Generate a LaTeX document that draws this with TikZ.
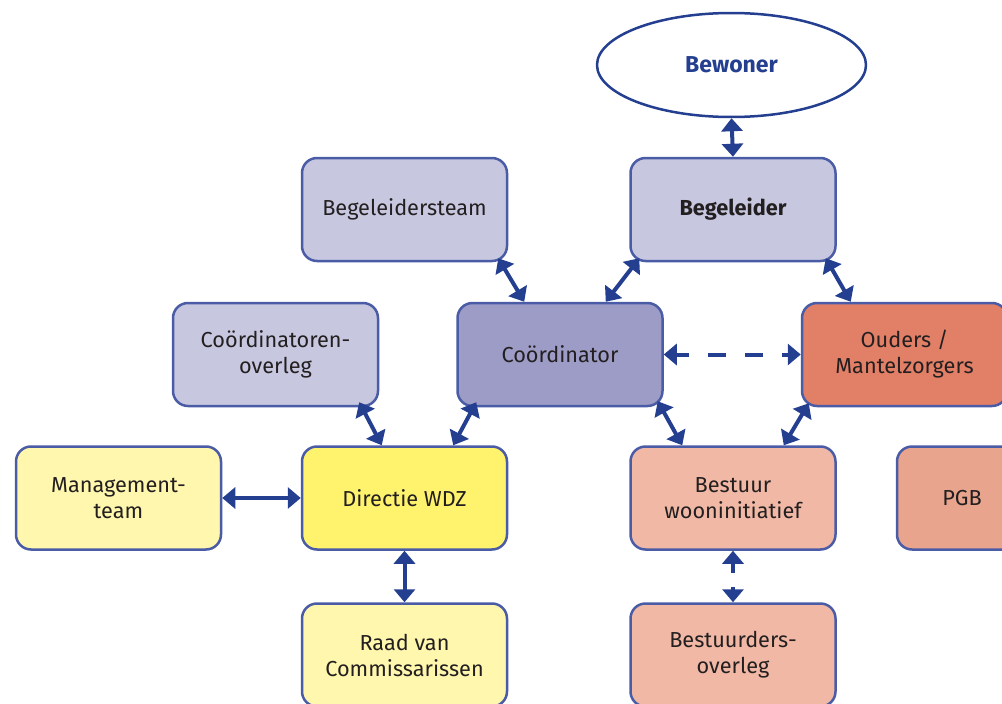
\documentclass[tikz,border=0pt]{standalone}
\usepackage{fontspec}
\setmainfont{Fira Sans}
\usetikzlibrary{arrows.meta,calc,shapes.geometric}
\begin{document}
\begin{tikzpicture}[x=1pt,y=-1pt,line join=round]
	\definecolor{lijnblauw}{HTML}{4B5CA6}
	\definecolor{pijlblauw}{HTML}{243F8F}
	\definecolor{tekstzwart}{HTML}{231F20}
	\definecolor{lila}{HTML}{C7C7E0}
	\definecolor{paars}{HTML}{9C9CC6}
	\definecolor{koraal}{HTML}{E27F67}
	\definecolor{zalm}{HTML}{F1B9A5}
	\definecolor{zalmdonker}{HTML}{E8A48D}
	\definecolor{lichtgeel}{HTML}{FFF7AE}
	\definecolor{geel}{HTML}{FFF26D}
	\tikzset{
		vak/.style={draw=lijnblauw,line width=2.5pt,rounded corners=15pt,
			minimum width=205pt,minimum height=103pt,inner sep=0pt,
			align=center,text=tekstzwart,font=\fontsize{21.7}{26}\selectfont},
		pijl/.style={{Triangle[width=21pt,length=13pt]}-{Triangle[width=21pt,length=13pt]},
			line width=4pt,draw=pijlblauw},
	}
	\useasboundingbox (0,0) rectangle (1002,704);
	\clip (0,0) rectangle (1002,704);
	
	%%%% bovenste rij
	\node[ellipse,draw=pijlblauw,line width=2.5pt,minimum width=269pt,minimum height=104pt,inner sep=0pt,
		text=pijlblauw,font=\fontsize{23}{26}\selectfont\bfseries] (bew) at (731.5,65) {Bewoner};
	\node[vak,fill=lila] (begt) at (404.5,209.5) {Begeleidersteam};
	\node[vak,fill=lila,font=\fontsize{21.7}{26}\selectfont\bfseries] (begl) at (733,209.5) {Begeleider};
	
	%%%% middelste rij
	\node[vak,fill=lila] (covl) at (275.5,354.5) {Coördinatoren-\\overleg};
	\node[vak,fill=paars] (coord) at (560,354.5) {Coördinator};
	\node[vak,fill=koraal] (ouders) at (904.5,354.5) {Ouders /\\Mantelzorgers};
	
	%%%% onderste rijen
	\node[vak,fill=lichtgeel] (mgmt) at (118.5,498) {Management-\\team};
	\node[vak,fill=geel] (dir) at (404.5,498) {Directie WDZ};
	\node[vak,fill=zalm] (best) at (733,498) {Bestuur\\wooninitiatief};
	\node[vak,fill=zalmdonker] (pgb) at (999.5,498) {};
	\node[text=tekstzwart,font=\fontsize{21.7}{26}\selectfont] (pgbtekst) at (962,498) {PGB};
	\node[vak,fill=lichtgeel] (raad) at (404.5,655) {Raad van\\Commissarissen};
	\node[vak,fill=zalm] (bovl) at (733,655) {Bestuurders-\\overleg};
	
	%%%% pijlen
	\draw[pijl] (bew.south)--(begl.north);
	\draw[pijl] ($(begt.south east)+(-10,-4)$)--($(coord.north west)+(68,0)$);
	\draw[pijl] ($(begl.south west)+(10,-4)$)--($(coord.north east)+(-58,0)$);
	\draw[pijl] ($(begl.south east)+(-11,-4)$)--($(ouders.north west)+(50,0)$);
	\draw[pijl,dash pattern=on 18pt off 19pt,dash phase=5pt] (coord.east)--(ouders.west); %gestippeld
	\draw[pijl] ($(covl.south east)+(-20,-5)$)--($(dir.north west)+(81,0)$);
	\draw[pijl] ($(coord.south west)+(20,-5)$)--($(dir.north east)+(-55,0)$);
	\draw[pijl] ($(coord.south east)+(-6,-6)$)--($(best.north west)+(53,0)$);
	\draw[pijl] ($(ouders.south west)+(8,-4)$)--($(best.north east)+(-53,0)$);
	\draw[pijl] (mgmt.east)--(dir.west);
	\draw[pijl] (dir.south)--(raad.north);
	\draw[pijl,dash pattern=on 20pt off 14pt,dash phase=10pt] (best.south)--(bovl.north); %gestippeld
\end{tikzpicture}
\end{document}
